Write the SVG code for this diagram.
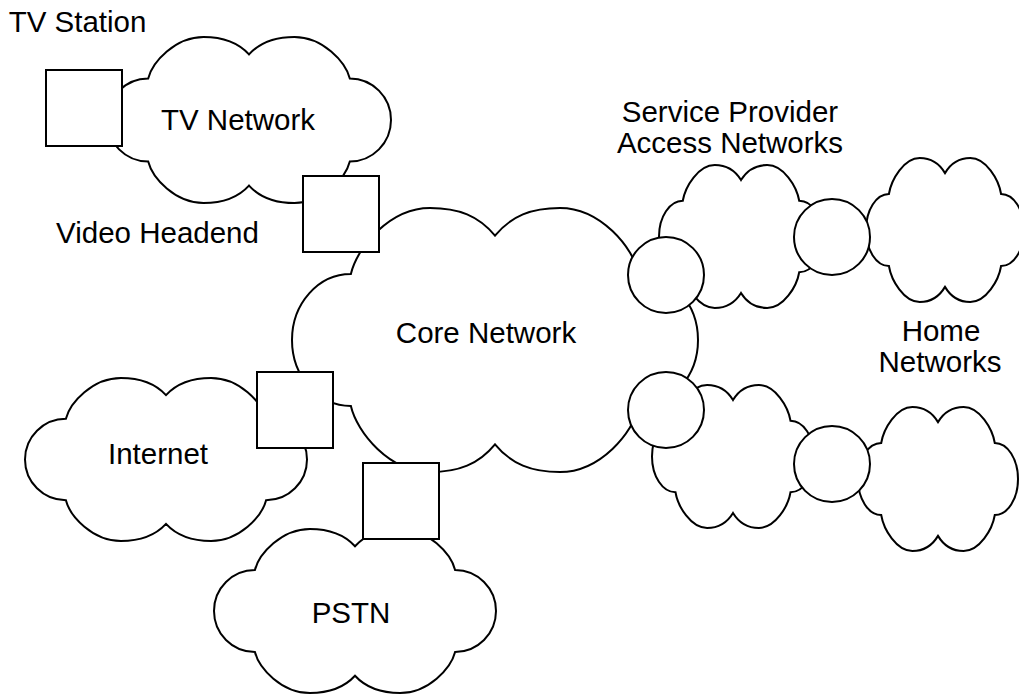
<svg xmlns="http://www.w3.org/2000/svg" xmlns:xlink="http://www.w3.org/1999/xlink" width="1019" height="695" viewBox="0 0 1019 695">
<style>
.cloud{fill:#fff;stroke:#000;stroke-width:2;stroke-linejoin:miter;vector-effect:non-scaling-stroke}
.box{fill:#fff;stroke:#000;stroke-width:2}
.lbl{font-family:"Liberation Sans",Arial,Helvetica,sans-serif;font-size:29.5px;fill:#000;text-anchor:middle}
</style>
<defs>
<path id="cloudShape" class="cloud" d="M14.5,25 C16,15 24,0 34,0 C41,0 46,3 50,10.5 C54,3 59,0 66,0 C76,0 84,15 85.5,25 A14.5 25 0 0 1 85.5,75 C84,85 76,100 66,100 C59,100 54,97 50,89.5 C46,97 41,100 34,100 C24,100 16,85 14.5,75 A14.5 25 0 0 1 14.5,25 Z"/>
</defs>
<rect width="1019" height="695" fill="#fff"/>
<g id="connectors"></g>
<g id="tv-network">
<use href="#cloudShape" transform="translate(107 37) scale(2.84 1.66)"/>
<text class="lbl" x="238" y="130">TV Network</text>
</g>
<g id="internet">
<use href="#cloudShape" transform="translate(25 378) scale(2.82 1.63)"/>
<text class="lbl" x="158" y="464">Internet</text>
</g>
<g id="pstn">
<use href="#cloudShape" transform="translate(214 529) scale(2.82 1.64)"/>
<text class="lbl" x="351" y="623">PSTN</text>
</g>
<g id="access-upper">
<use href="#cloudShape" transform="translate(659 165) scale(1.64 1.43)"/>
</g>
<g id="home-upper">
<use href="#cloudShape" transform="translate(866 158) scale(1.58 1.44)"/>
</g>
<g id="access-lower">
<use href="#cloudShape" transform="translate(652 385) scale(1.62 1.43)"/>
</g>
<g id="home-lower">
<use href="#cloudShape" transform="translate(858 407) scale(1.60 1.44)"/>
</g>
<g id="core-network">
<use href="#cloudShape" transform="translate(292 208) scale(4.06 2.64)"/>
<text class="lbl" x="486" y="342.5">Core Network</text>
</g>
<g id="tv-station">
<rect class="box" x="46" y="70" width="76" height="76"/>
<text class="lbl" x="77.5" y="32">TV Station</text>
</g>
<g id="video-headend">
<rect class="box" x="303" y="176" width="76" height="76"/>
<text class="lbl" x="157.5" y="243">Video Headend</text>
</g>
<g id="internet-gateway">
<rect class="box" x="257" y="372" width="76" height="76"/>
</g>
<g id="pstn-gateway">
<rect class="box" x="363" y="463" width="76" height="76"/>
</g>
<g id="access-router-1">
<circle class="box" cx="666" cy="275" r="38"/>
</g>
<g id="access-router-2">
<circle class="box" cx="666" cy="410" r="38"/>
</g>
<g id="home-gateway-1">
<circle class="box" cx="832" cy="237" r="38"/>
</g>
<g id="home-gateway-2">
<circle class="box" cx="832" cy="464" r="38"/>
</g>
<g id="labels">
<text class="lbl" x="730" y="122">Service Provider</text>
<text class="lbl" x="730" y="153">Access Networks</text>
<text class="lbl" x="941" y="341">Home</text>
<text class="lbl" x="940" y="372">Networks</text>
</g>
</svg>
